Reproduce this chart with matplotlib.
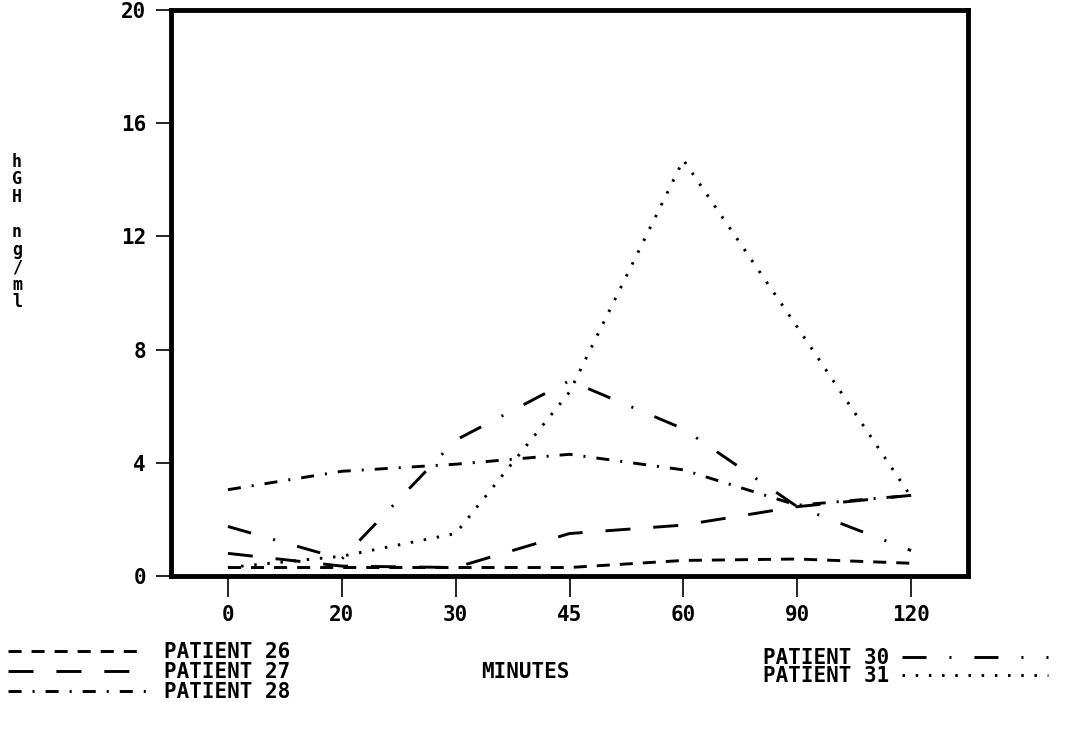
import matplotlib
matplotlib.use('Agg')
import matplotlib.pyplot as plt

plt.rcParams['lines.scale_dashes'] = False
plt.rcParams['font.family'] = ['DejaVu Sans Mono', 'DejaVu Sans']
plt.rcParams['font.weight'] = 'bold'

# ---- data ----
minutes = ['0', '20', '30', '45', '60', '90', '120']
p26 = [0.3, 0.3, 0.3, 0.3, 0.55, 0.6, 0.45]
p27 = [0.8, 0.35, 0.3, 1.5, 1.8, 2.45, 2.85]
p28 = [3.05, 3.7, 3.95, 4.3, 3.75, 2.5, 2.85]
p30 = [1.75, 0.6, 4.8, 6.9, 5.2, 2.45, 0.9]
p31 = [0.3, 0.7, 1.5, 6.5, 14.7, 8.8, 2.8]
labels = ['PATIENT 26', 'PATIENT 27', 'PATIENT 28', 'PATIENT 30', 'PATIENT 31']
yticks = [0, 4, 8, 12, 16, 20]

W, H = 1065, 734
fig = plt.figure(figsize=(W / 100, H / 100), dpi=100)
ax = fig.add_axes([171 / W, 1 - 576 / H, (968 - 171) / W, (576 - 10) / H])

x = list(range(len(minutes)))
lw = 2.1
styles = [
    (0, (9.4, 7.2)),
    (0, (18, 16.5)),
    (0, (9.4, 7.9, 1.5, 7.9)),
    (0, (17.3, 16.5, 1.5, 16.5)),
    (0, (1.8, 7.7)),
]
series = [p26, p27, p28, p30, p31]
handles = []
for s, ls, lab in zip(series, styles, labels):
    h, = ax.plot(x, s, color='black', lw=lw, linestyle=ls, label=lab)
    handles.append(h)

ax.set_xlim(-0.5, 6.5)
ax.set_ylim(0, 20)
ax.set_xticks(x)
ax.set_xticklabels(minutes)
ax.set_yticks(yticks)
ax.set_yticklabels([str(v) for v in yticks])
for sp in ax.spines.values():
    sp.set_linewidth(3.5)
ax.tick_params(axis='x', direction='out', length=15, width=1.2, pad=6, labelsize=15)
ax.tick_params(axis='y', direction='out', length=11, width=1.2, pad=7, labelsize=15)

# vertical stacked y label
fig.text(17 / W, 1 - 232 / H, 'h\nG\nH\n \nn\ng\n/\nm\nl', ha='center', va='center',
         fontsize=12, linespacing=0.97)

fig.text(525 / W, 1 - 672 / H, 'MINUTES', ha='center', va='center', fontsize=15)

leg1 = fig.legend(handles=handles[:3], labels=labels[:3], loc='upper left',
                  bbox_to_anchor=(8 / W, 1 - 642 / H), frameon=False, fontsize=15,
                  handlelength=6.6, handletextpad=0.9, labelspacing=0.0,
                  borderpad=0, borderaxespad=0)
leg2 = fig.legend(handles=handles[3:], labels=labels[3:], loc='upper right',
                  bbox_to_anchor=(1048 / W, 1 - 648 / H), frameon=False, fontsize=15,
                  handlelength=7.0, handletextpad=0.6, labelspacing=-0.1,
                  borderpad=0, borderaxespad=0, markerfirst=False)

fig.savefig('out.png', dpi=100, facecolor='white')
